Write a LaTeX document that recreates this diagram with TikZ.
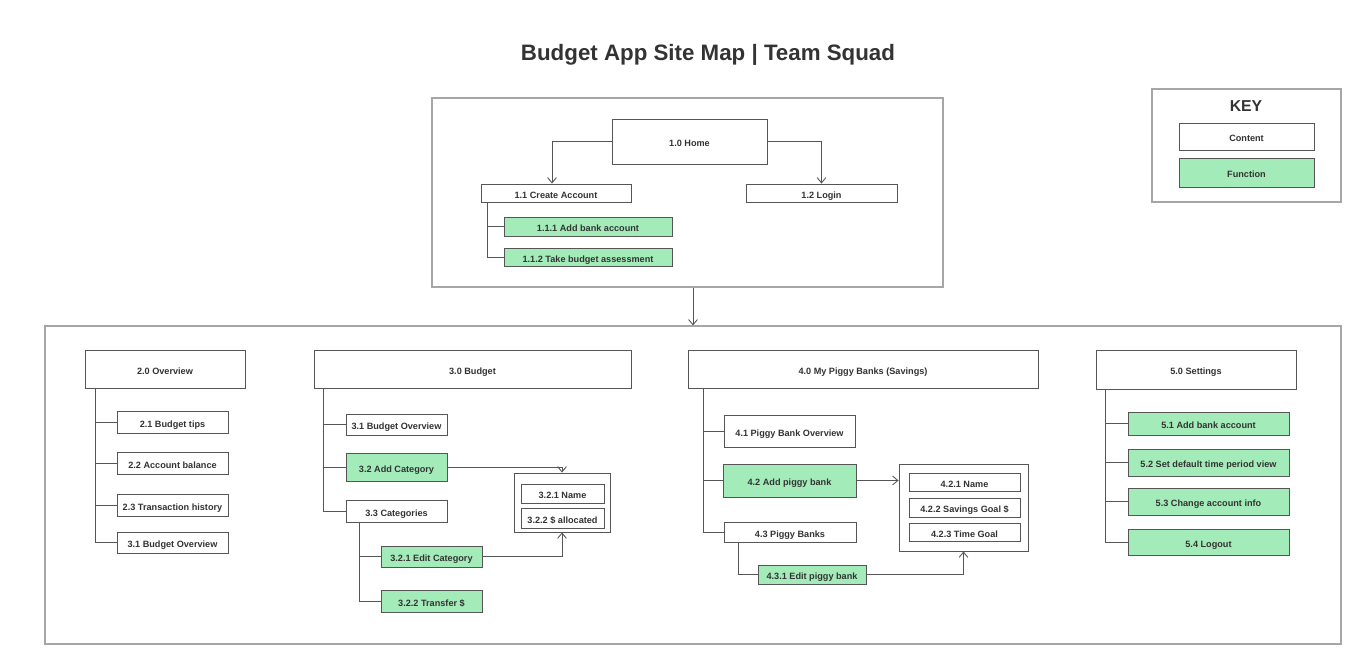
\documentclass[tikz,border=0pt]{standalone}
\usepackage{fontspec}
\setmainfont{Liberation Sans}
\usepackage{tikz}
\usetikzlibrary{arrows.meta,positioning}
\definecolor{fngreen}{HTML}{A3EBB9}
\definecolor{edgegray}{HTML}{555555}
\definecolor{framegray}{HTML}{A6A6A6}
\definecolor{txtgray}{HTML}{333333}
\tikzset{
  sz/.style 2 args = {minimum width=#1*0.02cm, minimum height=#2*0.02cm},
  page/.style  = {rectangle, draw=framegray, line width=0.6pt, inner sep=0pt},
  content/.style = {rectangle, draw=edgegray, line width=0.5pt, fill=white, inner sep=0pt,
                    text height=0.75em, text depth=0.15em,
                    text=txtgray, font=\bfseries\fontsize{5.2}{6}\selectfont},
  function/.style = {content, fill=fngreen},
  link/.style  = {draw=edgegray, line width=0.5pt},
  goto/.style  = {link, -{Straight Barb[length=3pt,width=5pt]}}
}

\begin{document}
\begin{tikzpicture}[x=0.02cm, y=-0.02cm]
	\useasboundingbox (0,0) rectangle (1367,663);

	\node[text=txtgray, font=\bfseries\fontsize{12.7}{15}\selectfont] (title) at (708,55) {Budget App Site Map | Team Squad};

	% key
	\node[page, sz={189}{113}] (keyfr) at (1246.5,145.5) {};
	\node[text=txtgray, font=\bfseries\fontsize{9}{11}\selectfont] (keyttl) at (1246,106) {KEY};
	\node[content, sz={135}{27}] (kcont) at (1246.5,136.5) {Content};
	\node[function, sz={135}{29}] (kfunc) at (1246.5,172.5) {Function};

	% 1.0 home
	\node[page, sz={511}{189}] (topfr) at (687.5,192.5) {};
	\node[content, sz={155}{45}] (home) at (689.5,141.5) {1.0 Home};
	\node[content, sz={150}{18}] (acct) at (556,193) {1.1 Create Account};
	\node[content, sz={151}{18}] (login) at (821.5,193) {1.2 Login};
	\node[function, sz={168}{19}] (bank) at (588,226.5) {1.1.1 Add bank account};
	\node[function, sz={168}{18}] (assess) at (588,257) {1.1.2 Take budget assessment};
	\draw[goto] (home.west) -| ([xshift=-4*0.02cm]acct.north);
	\draw[goto] (home.east) -| (login.north);
	\foreach \c in {bank,assess}
		\draw[link] (acct.south west) ++(7,0) |- (\c.west);

	% main sections
	\node[page, sz={1296}{318}] (botfr) at (693,485) {};
	\draw[goto] (botfr.north |- topfr.south) -- (botfr.north);

	% 2.0 overview
	\node[content, sz={160}{38}] (ovw) at (165,369) {2.0 Overview};
	\node[content, sz={111}{22}] (ovw1) at (172.5,422) {2.1 Budget tips};
	\node[content, sz={111}{22}] (ovw2) at (172.5,463) {2.2 Account balance};
	\node[content, sz={111}{22}] (ovw3) at (172.5,505) {2.3 Transaction history};
	\node[content, sz={111}{21}] (ovw4) at (172.5,542.5) {3.1 Budget Overview};
	\foreach \c in {ovw1,ovw2,ovw3,ovw4}
		\draw[link] (ovw.south west) ++(11,0) |- (\c.west);

	% 3.0 budget
	\node[content, sz={317}{38}] (bud) at (472.5,369) {3.0 Budget};
	\node[content, sz={101}{21}] (bud1) at (396.5,424.5) {3.1 Budget Overview};
	\node[function, sz={101}{28}] (bud2) at (396.5,467) {3.2 Add Category};
	\node[content, sz={101}{22}] (bud3) at (396.5,511) {3.3 Categories};
	\node[function, sz={101}{21}] (edcat) at (431.5,556.5) {3.2.1 Edit Category};
	\node[function, sz={101}{22}] (xfer) at (431.5,601) {3.2.2 Transfer \$};
	\node[content, sz={96}{59}] (catbox) at (562,502.5) {};
	\node[content, sz={83}{19}] (catname) at (562.5,493.5) {3.2.1 Name};
	\node[content, sz={83}{20}] (catamt) at (562.5,518) {3.2.2 \$ allocated};
	\foreach \c in {bud1,bud2,bud3}
		\draw[link] (bud.south west) ++(10,0) |- (\c.west);
	\foreach \c in {edcat,xfer}
		\draw[link] (bud3.south west) ++(14,0) |- (\c.west);
	\draw[goto] (bud2.east) -| (catbox.north);
	\draw[goto] (edcat.east) -| (catbox.south);

	% 4.0 piggy banks
	\node[content, sz={350}{38}] (pig) at (863,369) {4.0 My Piggy Banks (Savings)};
	\node[content, sz={131}{32}] (pig1) at (789.5,431) {4.1 Piggy Bank Overview};
	\node[function, sz={133}{33}] (pig2) at (789.5,480.5) {4.2 Add piggy bank};
	\node[content, sz={132}{20}] (pig3) at (790,532) {4.3 Piggy Banks};
	\node[function, sz={108}{19}] (edpig) at (812,574.5) {4.3.1 Edit piggy bank};
	\node[content, sz={129}{87}] (pigbox) at (963.5,507.5) {};
	\node[content, sz={111}{18}] (pigname) at (964.5,482) {4.2.1 Name};
	\node[content, sz={111}{19}] (piggoal) at (964.5,507.5) {4.2.2 Savings Goal \$};
	\node[content, sz={111}{18}] (pigtime) at (964.5,532) {4.2.3 Time Goal};
	\foreach \c in {pig1,pig2,pig3}
		\draw[link] (pig.south west) ++(16,0) |- (\c.west);
	\draw[link] (pig3.south west) ++(15,0) |- (edpig.west);
	\draw[goto] (pig2.east) -- (pig2.east -| pigbox.west);
	\draw[goto] (edpig.east) -| (pigbox.south);

	% 5.0 settings
	\node[content, sz={200}{39}] (set) at (1196,369.5) {5.0 Settings};
	\node[function, sz={161}{23}] (set1) at (1208.5,423.5) {5.1 Add bank account};
	\node[function, sz={161}{27}] (set2) at (1208.5,462.5) {5.2 Set default time period view};
	\node[function, sz={161}{27}] (set3) at (1208.5,501.5) {5.3 Change account info};
	\node[function, sz={161}{26}] (set4) at (1208.5,542) {5.4 Logout};
	\foreach \c in {set1,set2,set3,set4}
		\draw[link] (set.south west) ++(10,0) |- (\c.west);
\end{tikzpicture}
\end{document}
